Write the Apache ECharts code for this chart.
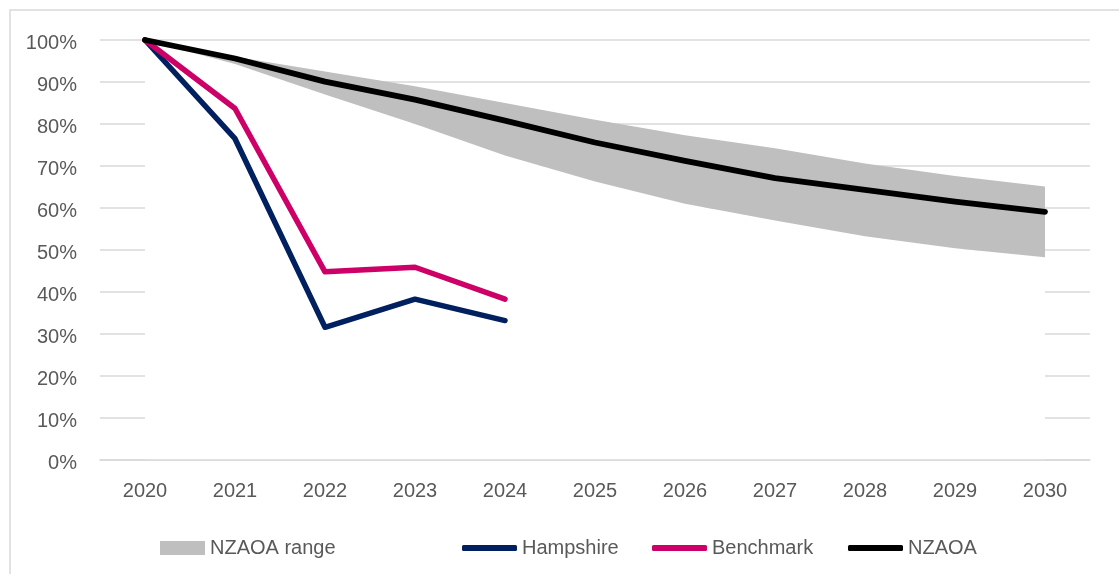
<!DOCTYPE html>
<html>
<head>
<meta charset="utf-8">
<script src="https://cdn.jsdelivr.net/npm/echarts@6/dist/echarts.min.js"></script>
<style>
html,body{margin:0;padding:0;background:#fff;}
#chart{width:1119px;height:574px;}
</style>
</head>
<body>
<div id="chart"></div>
<script>
const years = ['2020','2021','2022','2023','2024','2025','2026','2027','2028','2029','2030'];
const nzaoaUpper = [100, 96, 92.5, 89, 85, 81, 77.3, 74.2, 70.6, 67.6, 65.1];
const nzaoaLower = [100, 94.3, 87, 80, 72.5, 66.3, 61, 57, 53.3, 50.4, 48.3];
const nzaoa = [100, 95.6, 90.1, 85.8, 80.8, 75.6, 71.2, 67.1, 64.3, 61.5, 59.1];
const hampshire = [100, 76.5, 31.6, 38.3, 33.2];
const benchmark = [100, 83.7, 44.8, 45.9, 38.3];
const yTicks = [0, 10, 20, 30, 40, 50, 60, 70, 80, 90, 100];

const bandWidth = nzaoaUpper.map((v, i) => +(v - nzaoaLower[i]).toFixed(2));

const FONT = '"Liberation Sans", Arial, sans-serif';
const TXT = '#595959';

const chart = echarts.init(document.getElementById('chart'), null, {renderer: 'canvas'});

function legendAt(name, left, opts) {
  return Object.assign({
    data: [name],
    left: left,
    top: 538,
    padding: 0,
    icon: 'roundRect',
    itemWidth: 55,
    itemHeight: 6,
    itemGap: 0,
    textStyle: {color: TXT, fontSize: 20, fontFamily: FONT, lineHeight: 20},
    selectedMode: false
  }, opts || {});
}

chart.setOption({
  animation: false,
  backgroundColor: '#ffffff',
  graphic: [{
    type: 'rect',
    shape: {x: 10, y: 10, width: 1200, height: 700},
    style: {fill: 'none', stroke: '#d9d9d9', lineWidth: 1.5},
    silent: true,
    z: -10
  }],
  grid: {left: 100, right: 29, top: 40, bottom: 114, containLabel: false},
  legend: [
    legendAt('NZAOA range', 160, {icon: 'rect', itemWidth: 45, itemHeight: 14}),
    legendAt('Hampshire', 462),
    legendAt('Benchmark', 652),
    legendAt('NZAOA', 848)
  ],
  xAxis: {
    type: 'category',
    data: years,
    boundaryGap: true,
    z: 5,
    axisLine: {show: true, lineStyle: {color: '#d9d9d9', width: 1.5}},
    axisTick: {show: false},
    splitLine: {show: false},
    axisLabel: {color: TXT, fontSize: 20, fontFamily: FONT, margin: 21}
  },
  yAxis: {
    type: 'value',
    min: yTicks[0],
    max: yTicks[yTicks.length - 1],
    interval: 10,
    z: 0,
    axisLine: {show: false},
    axisTick: {show: false},
    splitLine: {show: true, lineStyle: {color: '#d9d9d9', width: 1.5}},
    axisLabel: {
      margin: 23,
      formatter: v => '{p|' + v + '%}',
      rich: {p: {color: TXT, fontSize: 20, fontFamily: FONT, padding: [7, 0, 0, 0]}}
    }
  },
  series: [
    {
      name: 'lower',
      type: 'line',
      stack: 'band',
      data: nzaoaLower,
      symbol: 'none',
      lineStyle: {width: 0, opacity: 0},
      areaStyle: {color: '#ffffff', opacity: 1},
      z: 1,
      silent: true
    },
    {
      name: 'NZAOA range',
      type: 'line',
      stack: 'band',
      data: bandWidth,
      symbol: 'none',
      itemStyle: {color: '#bfbfbf'},
      lineStyle: {width: 0, opacity: 0},
      areaStyle: {color: '#bfbfbf', opacity: 1},
      z: 1,
      silent: true
    },
    {
      name: 'Hampshire',
      type: 'line',
      data: hampshire,
      symbol: 'none',
      itemStyle: {color: '#002060'},
      lineStyle: {color: '#002060', width: 5.5, cap: 'round', join: 'round'},
      z: 3
    },
    {
      name: 'Benchmark',
      type: 'line',
      data: benchmark,
      symbol: 'none',
      itemStyle: {color: '#cc0066'},
      lineStyle: {color: '#cc0066', width: 5.5, cap: 'round', join: 'round'},
      z: 3
    },
    {
      name: 'NZAOA',
      type: 'line',
      data: nzaoa,
      symbol: 'none',
      itemStyle: {color: '#000000'},
      lineStyle: {color: '#000000', width: 5.8, cap: 'round', join: 'round'},
      z: 4
    }
  ]
});
</script>
</body>
</html>
